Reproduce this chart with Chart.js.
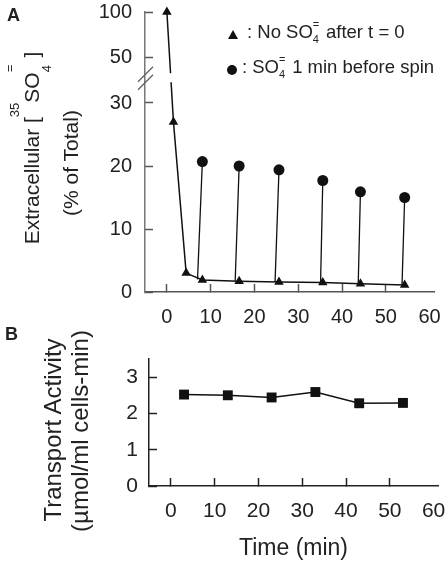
<!DOCTYPE html>
<html>
<head>
<meta charset="utf-8">
<script src="https://cdn.jsdelivr.net/npm/chart.js@4.4.0/dist/chart.umd.min.js"></script>
<style>
  body { margin: 0; width: 447px; height: 564px; position: relative; overflow: hidden; background: #fff;
         font-family: "Liberation Sans", Arial, sans-serif; color: #222; }
  canvas { position: absolute; left: 0; }
  #chartA { top: 0; }
  #chartB { top: 330px; }
  .lbl { position: absolute; white-space: nowrap; line-height: 1; }
  .panel { font-weight: bold; font-size: 18px; }
  .rot { transform: translate(-50%, -50%) rotate(-90deg); }
  .stk { position: relative; display: inline-block; height: 0; }
  .stk span { position: absolute; left: 0; line-height: 1; }
  .mk-tri { position: absolute; width: 0; height: 0; border-left: 5px solid transparent;
            border-right: 5px solid transparent; border-bottom: 9px solid #111; }
  .mk-dot { position: absolute; width: 10px; height: 10px; border-radius: 50%; background: #111; }
</style>
</head>
<body>
<canvas id="chartA" width="447" height="330"></canvas>
<canvas id="chartB" width="447" height="234"></canvas>

<div class="lbl panel" style="left:7px;top:6px;">A</div>
<div class="lbl panel" style="left:5px;top:325px;">B</div>

<!-- panel A y title -->
<div class="lbl rot" style="left:31px;top:148px;font-size:21px;">Extracellular [<span style="position:relative;top:-20px;font-size:13px;">35</span>SO<span class="stk" style="width:9px;font-size:13px;"><span style="top:-36px;">=</span><span style="top:1px;">4</span></span> ]</div>
<div class="lbl rot" style="left:70px;top:163px;font-size:21px;">(% of Total)</div>

<!-- panel A legend -->
<div class="mk-tri" style="left:228px;top:30px;"></div>
<div class="lbl" style="left:247px;top:23px;font-size:18.5px;">: No SO<span class="stk" style="width:8px;font-size:11px;"><span style="top:-19px;">=</span><span style="top:-4px;">4</span></span> after t = 0</div>
<div class="mk-dot" style="left:227px;top:65px;"></div>
<div class="lbl" style="left:242px;top:58px;font-size:18.5px;">: SO<span class="stk" style="width:8px;font-size:11px;"><span style="top:-19px;">=</span><span style="top:-4px;">4</span></span> 1 min before spin</div>

<!-- panel B y title -->
<div class="lbl rot" style="left:53px;top:430px;font-size:24px;">Transport Activity</div>
<div class="lbl rot" style="left:80px;top:431px;font-size:24px;">(µmol/ml cells-min)</div>

<script>
// panel A: extracellular 35SO4 (% of total)
var triTime = [0, 1.5, 4.4, 8.1, 16.5, 25.6, 35.6, 44.2, 54.3];
var triValue = [100, 27, 3.0, 1.9, 1.7, 1.6, 1.5, 1.3, 1.1];
var dotTime = [8.1, 16.5, 25.6, 35.6, 44.2, 54.3];
var dotValue = [20.7, 20.0, 19.4, 17.7, 15.9, 15.0];
var spikeTime = [7.0, 15.6, 24.7, 35.1, 43.7, 53.7];
var spikeValue = [2.0, 1.8, 1.6, 1.5, 1.4, 1.2];
var yTicksA = [0, 10, 20, 30, 50, 100];
var xTicks = [0, 10, 20, 30, 40, 50, 60];

// panel B: transport activity
var sqTime = [3, 13, 23, 33, 43, 53];
var sqValue = [2.52, 2.50, 2.44, 2.59, 2.28, 2.29];
var yTicksB = [0, 1, 2, 3];

var FONT = '"Liberation Sans", Arial, sans-serif';
var INK = '#111';

// broken y axis: 0-30 on the lower part, 50-100 squeezed on top
var lowTop = 30, highBottom = 50, highTop = 100;
var lowFrac = 0.675, highFrac = 0.836;
var breakAt = 41;

function brokenDecimal(v) {
    if (v <= lowTop) return v / lowTop * lowFrac;
    if (v >= highBottom) return highFrac + (v - highBottom) / (highTop - highBottom) * (1 - highFrac);
    return lowFrac + (v - lowTop) / (highBottom - lowTop) * (highFrac - lowFrac);
}

class BrokenScale extends Chart.LinearScale {
    getPixelForValue(value) {
        if (value === null || isNaN(value)) return NaN;
        return this.getPixelForDecimal(brokenDecimal(value));
    }
}
BrokenScale.id = 'broken';
BrokenScale.defaults = Chart.LinearScale.defaults;
Chart.register(BrokenScale);

function fixedTicks(list) {
    return function (scale) {
        scale.ticks = list.map(function (v) { return { value: v }; });
    };
}

// the layout is set by hand, so drop the label overhang padding
function fitSize(prop, size) {
    return function (s) {
        s[prop] = size;
        s.paddingTop = s.paddingBottom = s.paddingLeft = s.paddingRight = 0;
    };
}

function xAxis(fontSize, pad, height, axisColor, title) {
    return {
        type: 'linear', min: -5, max: 61,
        afterBuildTicks: fixedTicks(xTicks),
        afterFit: fitSize('height', height),
        border: { color: axisColor, width: 1.5 },
        grid: {
            drawOnChartArea: false, tickLength: -8, tickWidth: 1.5,
            tickColor: function (c) { return c.tick && c.tick.value === 60 ? 'rgba(0,0,0,0)' : axisColor; }
        },
        ticks: { color: '#222', padding: pad, font: { family: FONT, size: fontSize } },
        title: title
    };
}

var breakPlugin = {
    id: 'breakMarks',
    afterDatasetsDraw: function (chart) {
        var ctx = chart.ctx, y = chart.scales.y, left = chart.chartArea.left;
        var yc = y.getPixelForValue(breakAt);
        ctx.save();
        // gap in the data line where the axis is broken
        ctx.fillStyle = '#fff';
        ctx.fillRect(left + 3, yc - 5, 40, 9);
        ctx.strokeStyle = '#666';
        ctx.lineWidth = 1.5;
        [-4, 4].forEach(function (off) {
            ctx.beginPath();
            ctx.moveTo(left - 7, yc + off + 7.5);
            ctx.lineTo(left + 8, yc + off - 7.5);
            ctx.stroke();
        });
        ctx.restore();
    }
};

var spikeSets = spikeTime.map(function (t, i) {
    return {
        data: [{ x: t, y: spikeValue[i] }, { x: dotTime[i], y: dotValue[i] }],
        borderColor: INK, borderWidth: 1.3, pointRadius: 0, clip: false
    };
});

new Chart(document.getElementById('chartA'), {
    type: 'line',
    data: {
        datasets: [{
            data: triTime.map(function (t, i) { return { x: t, y: triValue[i] }; }),
            borderColor: INK, borderWidth: 1.5,
            pointStyle: 'triangle', pointRadius: 5.5,
            pointBackgroundColor: INK, pointBorderColor: INK, pointBorderWidth: 0,
            clip: false
        }].concat(spikeSets).concat([{
            data: dotTime.map(function (t, i) { return { x: t, y: dotValue[i] }; }),
            showLine: false,
            pointStyle: 'circle', pointRadius: 5.5,
            pointBackgroundColor: INK, pointBorderColor: INK, pointBorderWidth: 0,
            clip: false
        }])
    },
    options: {
        responsive: false, animation: false, devicePixelRatio: 1,
        layout: { padding: { top: 12, right: 13, left: 0, bottom: 0 } },
        plugins: { legend: { display: false }, tooltip: { enabled: false } },
        scales: {
            x: xAxis(20, 21, 38, '#555', { display: false }),
            y: {
                type: 'broken', min: 0, max: 100,
                afterBuildTicks: fixedTicks(yTicksA),
                afterFit: fitSize('width', 145),
                border: { color: '#777', width: 1.5 },
                grid: { drawOnChartArea: false, tickLength: -8, tickWidth: 1.5, tickColor: '#555' },
                ticks: { color: '#222', padding: 21, font: { family: FONT, size: 20 } }
            }
        }
    },
    plugins: [breakPlugin]
});

new Chart(document.getElementById('chartB'), {
    type: 'line',
    data: {
        datasets: [{
            data: sqTime.map(function (t, i) { return { x: t, y: sqValue[i] }; }),
            borderColor: INK, borderWidth: 1.5,
            pointStyle: 'rect', pointRadius: 7,
            pointBackgroundColor: INK, pointBorderColor: INK, pointBorderWidth: 0,
            clip: false
        }]
    },
    options: {
        responsive: false, animation: false, devicePixelRatio: 1,
        layout: { padding: { top: 29, right: 9, left: 0, bottom: 0 } },
        plugins: { legend: { display: false }, tooltip: { enabled: false } },
        scales: {
            x: xAxis(21, 21, 78, '#222', {
                display: true, text: 'Time (min)', color: '#222',
                font: { family: FONT, size: 23 }, padding: { top: 0, bottom: 2 }
            }),
            y: {
                type: 'linear', min: 0, max: 3.5,
                afterBuildTicks: fixedTicks(yTicksB),
                afterFit: fitSize('width', 149),
                border: { color: '#222', width: 1.5 },
                grid: { drawOnChartArea: false, tickLength: -8, tickWidth: 1.5, tickColor: '#222' },
                ticks: { color: '#222', padding: 19, font: { family: FONT, size: 21 } }
            }
        }
    }
});
</script>
</body>
</html>
